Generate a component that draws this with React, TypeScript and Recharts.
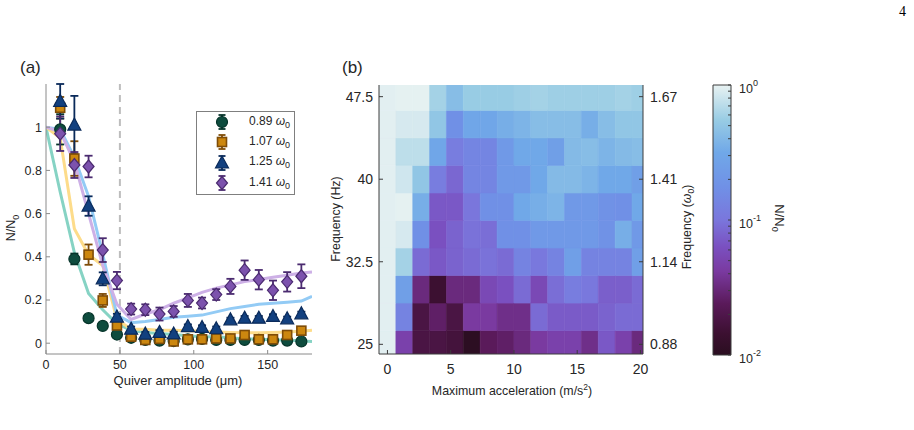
import React from 'react';
import {
  ComposedChart, Line, Scatter, ErrorBar, XAxis, YAxis, ReferenceLine, ReferenceArea, Legend,
} from 'recharts';

const FONT = '"Liberation Sans", Arial, Helvetica, sans-serif';
const INK = '#262626';
const AX_A = '#8a8a8a';
const AX_B = '#3c3c3c';

// ---------- panel (a): N/N0 vs quiver amplitude ----------
const quiverX = [9.6, 19.2, 28.8, 38.4, 48, 57.6, 67.2, 76.8, 86.4, 96, 105.6, 115.2, 124.8, 134.4, 144, 153.6, 163.2, 172.8];

const surv089 = [0.99, 0.39, 0.116, 0.08, 0.04, 0.025, 0.015, 0.012, 0.01, 0.018, 0.02, 0.015, 0.015, 0.015, 0.015, 0.012, 0.012, 0.008];
const err089 = [0.07, 0.025, 0.01, 0.01, 0.008, 0.006, 0.006, 0.006, 0.006, 0.006, 0.006, 0.006, 0.006, 0.006, 0.006, 0.006, 0.006, 0.006];

const surv107 = [1.09, 0.855, 0.41, 0.198, 0.082, 0.03, 0.015, 0.02, 0.008, 0.018, 0.018, 0.022, 0.022, 0.038, 0.018, 0.018, 0.038, 0.058];
const err107 = [0.05, 0.08, 0.047, 0.03, 0.012, 0.008, 0.008, 0.008, 0.008, 0.008, 0.008, 0.008, 0.008, 0.01, 0.008, 0.008, 0.01, 0.01];

const surv125 = [1.12, 1.01, 0.635, 0.298, 0.121, 0.065, 0.042, 0.05, 0.043, 0.077, 0.073, 0.067, 0.108, 0.116, 0.116, 0.124, 0.113, 0.136];
const err125 = [0.08, 0.135, 0.045, 0.03, 0.015, 0.012, 0.01, 0.01, 0.01, 0.01, 0.01, 0.01, 0.01, 0.01, 0.01, 0.01, 0.01, 0.01];

const surv141 = [0.97, 0.825, 0.818, 0.431, 0.29, 0.158, 0.155, 0.135, 0.147, 0.198, 0.186, 0.225, 0.263, 0.338, 0.294, 0.245, 0.284, 0.31];
const err141 = [0.08, 0.06, 0.05, 0.055, 0.04, 0.025, 0.025, 0.03, 0.025, 0.03, 0.025, 0.025, 0.035, 0.045, 0.045, 0.045, 0.045, 0.055];

// simulated curves
const theoryX = [0, 9.6, 19.2, 28.8, 38.4, 48, 57.6, 67.2, 76.8, 86.4, 96, 105.6, 115.2, 124.8, 134.4, 144, 153.6, 163.2, 172.8, 180];
const theory089 = [1, 0.7, 0.42, 0.23, 0.155, 0.09, 0.06, 0.05, 0.045, 0.04, 0.035, 0.03, 0.03, 0.025, 0.02, 0.02, 0.015, 0.015, 0.01, 0.008];
const theory107 = [1, 0.95, 0.53, 0.41, 0.36, 0.11, 0.065, 0.065, 0.06, 0.06, 0.058, 0.055, 0.052, 0.05, 0.048, 0.048, 0.05, 0.052, 0.055, 0.06];
const theory125 = [1, 0.99, 0.86, 0.68, 0.41, 0.13, 0.095, 0.1, 0.11, 0.12, 0.125, 0.13, 0.145, 0.16, 0.17, 0.18, 0.185, 0.19, 0.195, 0.217];
const theory141 = [1, 0.98, 0.84, 0.6, 0.36, 0.18, 0.11, 0.135, 0.155, 0.185, 0.21, 0.235, 0.255, 0.27, 0.285, 0.295, 0.305, 0.315, 0.325, 0.33];

const xTicksA = [0, 50, 100, 150];
const yTicksA = [0, 0.2, 0.4, 0.6, 0.8, 1];

const pts = (ys: number[], es: number[]) => quiverX.map((x, i) => ({ x, y: ys[i], err: es[i] }));
const curve = (ys: number[]) => theoryX.map((x, i) => ({ x, y: ys[i] }));

const SERIES = [
  { label: '0.89', kind: 'circle', data: pts(surv089, err089), theory: curve(theory089), fill: '#0e4c3e', edge: '#06342a', line: '#86d3c4' },
  { label: '1.07', kind: 'square', data: pts(surv107, err107), theory: curve(theory107), fill: '#cc870f', edge: '#7e4c08', line: '#fddc8a' },
  { label: '1.25', kind: 'triangle', data: pts(surv125, err125), theory: curve(theory125), fill: '#12407f', edge: '#0a2a5a', line: '#93cbf5' },
  { label: '1.41', kind: 'diamond', data: pts(surv141, err141), theory: curve(theory141), fill: '#7c52ad', edge: '#4b2b70', line: '#cdb0e6' },
];

function Marker({ kind, cx, cy, fill, edge }: any) {
  if (cx == null || cy == null) return <g />;
  if (kind === 'circle') return <circle cx={cx} cy={cy} r={5.5} fill={fill} stroke={edge} strokeWidth={1.2} />;
  if (kind === 'square') return <rect x={cx - 4.5} y={cy - 4.5} width={9} height={9} fill={fill} stroke={edge} strokeWidth={1.6} />;
  if (kind === 'triangle')
    return <polygon points={`${cx},${cy - 7} ${cx + 6.5},${cy + 5} ${cx - 6.5},${cy + 5}`} fill={fill} stroke={edge} strokeWidth={1.2} />;
  return <polygon points={`${cx},${cy - 6.5} ${cx + 5.5},${cy} ${cx},${cy + 6.5} ${cx - 5.5},${cy}`} fill={fill} stroke={edge} strokeWidth={1.2} />;
}

function LegendBox() {
  return (
    <div style={{ width: 97, height: 82, border: '1px solid #7f7f7f', background: '#fff', position: 'relative', fontFamily: FONT, fontSize: 12, color: INK }}>
      {SERIES.map((s, i) => (
        <div key={s.label} style={{ position: 'absolute', left: 0, top: i * 20.3, height: 20, display: 'flex', alignItems: 'center' }}>
          <svg width={52} height={20}>
            <line x1={25} x2={25} y1={3} y2={17} stroke={s.edge} strokeWidth={1.8} />
            <line x1={21.5} x2={28.5} y1={3} y2={3} stroke={s.edge} strokeWidth={1.8} />
            <line x1={21.5} x2={28.5} y1={17} y2={17} stroke={s.edge} strokeWidth={1.8} />
            <Marker kind={s.kind} cx={25} cy={10} fill={s.fill} edge={s.edge} />
          </svg>
          <span style={{ whiteSpace: 'nowrap' }}>
            {s.label} <i>ω</i><sub style={{ fontSize: 9 }}>0</sub>
          </span>
        </div>
      ))}
    </div>
  );
}

// ---------- panel (b): log10(N/N0) map ----------
const accel = [0, 1.333, 2.667, 4, 5.333, 6.667, 8, 9.333, 10.667, 12, 13.333, 14.667, 16, 17.333, 18.667, 20];
const freqHz = [25, 27.5, 30, 32.5, 35, 37.5, 40, 42.5, 45, 47.5];
const freqTicks = [25, 32.5, 40, 47.5];
const omegaLabels = ['0.88', '1.14', '1.41', '1.67'];
const accelTicks = [0, 5, 10, 15, 20];

const log25 = [-0.02, -1.32, -1.74, -1.74, -1.78, -1.98, -1.62, -1.58, -1.5, -1.38, -1.32, -1.32, -1.46, -1.16, -1.32, -1.5];
const log275 = [-0.02, -0.88, -1.74, -1.58, -1.74, -1.38, -1.38, -1.46, -1.46, -1.06, -1.14, -1.14, -1.14, -1.1, -1.06, -1.06];
const log30 = [-0.02, -0.6, -1.5, -1.84, -1.5, -1.5, -1.26, -1.2, -1.06, -1.26, -1.04, -0.94, -0.98, -1.12, -1.12, -1.06];
const log325 = [-0.02, -0.22, -1.06, -1.16, -1.1, -1.06, -1.02, -1.06, -0.88, -0.98, -0.88, -0.6, -0.88, -0.88, -0.88, -0.6];
const log35 = [-0.02, -0.06, -0.76, -1.2, -1.1, -1.02, -1.04, -0.76, -0.76, -0.66, -0.66, -0.66, -0.66, -0.74, -0.46, -0.66];
const log375 = [-0.02, -0.01, -0.46, -1.16, -1.16, -1.0, -0.76, -0.76, -0.5, -0.46, -0.42, -0.66, -0.66, -0.74, -0.76, -0.5];
const log40 = [-0.02, -0.08, -0.3, -0.94, -1.08, -0.86, -0.86, -0.66, -0.66, -0.5, -0.38, -0.38, -0.42, -0.5, -0.5, -0.6];
const log425 = [-0.02, -0.14, -0.14, -0.52, -0.94, -0.86, -0.86, -0.66, -0.5, -0.5, -0.6, -0.38, -0.36, -0.42, -0.38, -0.36];
const log45 = [-0.02, -0.06, -0.06, -0.3, -0.76, -0.52, -0.52, -0.46, -0.42, -0.36, -0.36, -0.36, -0.46, -0.36, -0.3, -0.3];
const log475 = [-0.02, -0.01, -0.01, -0.22, -0.36, -0.26, -0.26, -0.26, -0.24, -0.22, -0.24, -0.24, -0.24, -0.24, -0.22, -0.24];
const logRows = [log25, log275, log30, log325, log35, log375, log40, log425, log45, log475];

const CELL_DX = 0.6667;
const CELL_DY = 1.25;

// colour map, position 0 = 1e-2, 1 = 1e0
const CMAP: [number, string][] = [
  [0.0, '#2a0e20'],
  [0.08, '#3c1031'],
  [0.19, '#5a1a5a'],
  [0.31, '#7a3aa0'],
  [0.4, '#7a50c0'],
  [0.5, '#7a76dc'],
  [0.62, '#7090e6'],
  [0.75, '#70a8e8'],
  [0.87, '#98cce4'],
  [1.0, '#e8f2f2'],
];

const hex = (c: string) => [1, 3, 5].map((k) => parseInt(c.slice(k, k + 2), 16));
function cmap(logv: number) {
  const t = Math.min(1, Math.max(0, (logv + 2) / 2));
  for (let i = 1; i < CMAP.length; i++) {
    if (t <= CMAP[i][0]) {
      const [t0, c0] = CMAP[i - 1];
      const [t1, c1] = CMAP[i];
      const f = (t - t0) / (t1 - t0);
      const a = hex(c0), b = hex(c1);
      return `rgb(${a.map((v, k) => Math.round(v + (b[k] - v) * f)).join(',')})`;
    }
  }
  return CMAP[CMAP.length - 1][1];
}

const cells = freqHz.flatMap((f, r) => accel.map((a, c) => ({ a, f, v: logRows[r][c] })));

// colour bar in log10 units
const cbLevels = [0.01, 0.02, 0.03, 0.04, 0.05, 0.06, 0.07, 0.08, 0.09, 0.1, 0.2, 0.3, 0.4, 0.5, 0.6, 0.7, 0.8, 0.9, 1];
const cbTicks = cbLevels.map((v) => Math.log10(v));
const cbMajor = [-2, -1, 0];

function CbTick(props: any) {
  const { x, y, payload } = props;
  const exp = Math.round(payload.value);
  if (Math.abs(payload.value - exp) > 1e-6 || !cbMajor.includes(exp)) return <g />;
  return (
    <text x={x} y={y} dy={8} fill={INK} fontSize={12.5} fontFamily={FONT} textAnchor="start">
      10<tspan dy={-7} fontSize={9}>{exp}</tspan>
    </text>
  );
}

const label = (extra: React.CSSProperties): React.CSSProperties => ({
  position: 'absolute', fontFamily: FONT, color: INK, whiteSpace: 'nowrap', lineHeight: 1, ...extra,
});

export default function App() {
  const tickA = { fill: INK, fontSize: 12.5, fontFamily: FONT };
  const tickB = { fill: INK, fontSize: 14, fontFamily: FONT };
  return (
    <div style={{ position: 'fixed', left: 0, top: 0, width: 914, height: 430, background: '#fff', overflow: 'hidden' }}>
      {/* panel (a) */}
      <div style={{ position: 'absolute', left: 0, top: 0 }}>
        <ComposedChart width={330} height={400} margin={{ top: 84, right: 18, bottom: 16, left: 6 }}>
          <XAxis type="number" dataKey="x" domain={[0, 180]} ticks={xTicksA} height={30} tickSize={-4} tickMargin={10}
            stroke={AX_A} tick={tickA} allowDataOverflow />
          <XAxis xAxisId="top" orientation="top" type="number" domain={[0, 180]} ticks={xTicksA} height={0} tickSize={-4}
            tick={false} stroke={AX_A} allowDataOverflow />
          <YAxis type="number" dataKey="y" domain={[-0.05, 1.2]} ticks={yTicksA} width={40} tickSize={-4} tickMargin={8}
            stroke={AX_A} tick={tickA} allowDataOverflow />
          <YAxis yAxisId="right" orientation="right" type="number" domain={[-0.05, 1.2]} ticks={yTicksA} width={0} tickSize={-4}
            tick={false} stroke={AX_A} allowDataOverflow />
          <ReferenceLine x={50} stroke="#bdbdbd" strokeWidth={2} strokeDasharray="7 5" />
          {SERIES.map((s) => (
            <Line key={'t' + s.label} data={s.theory} dataKey="y" type="linear" dot={false} stroke={s.line}
              strokeWidth={3} isAnimationActive={false} legendType="none" />
          ))}
          {SERIES.map((s) => (
            <Scatter key={'d' + s.label} data={s.data} dataKey="y" isAnimationActive={false}
              shape={(p: any) => <Marker kind={s.kind} cx={p.cx} cy={p.cy} fill={s.fill} edge={s.edge} />}>
              <ErrorBar dataKey="err" direction="y" width={4} stroke={s.edge} strokeWidth={1.8} />
            </Scatter>
          ))}
          <Legend layout="vertical" align="center" verticalAlign="middle" content={() => <LegendBox />}
            wrapperStyle={{ left: 196, top: 111, width: 99, height: 84 }} />
        </ComposedChart>
      </div>

      {/* panel (b) */}
      <div style={{ position: 'absolute', left: 330, top: 0 }}>
        <ComposedChart width={360} height={400} margin={{ top: 85, right: 7, bottom: 16, left: 7 }}>
          <XAxis type="number" dataKey="a" domain={[-0.667, 20.2]} ticks={accelTicks} height={30} tickSize={-4} tickMargin={14}
            stroke={AX_B} tick={tickB} allowDataOverflow />
          <XAxis xAxisId="top" orientation="top" type="number" domain={[-0.667, 20.2]} ticks={accelTicks} height={0}
            tickSize={-4} tick={false} stroke={AX_B} allowDataOverflow />
          <YAxis type="number" dataKey="f" domain={[24.12, 48.56]} ticks={freqTicks} width={42} tickSize={-4} tickMargin={10}
            stroke={AX_B} tick={tickB} allowDataOverflow />
          <YAxis yAxisId="r" orientation="right" type="number" domain={[24.12, 48.56]} ticks={freqTicks} width={40}
            tickSize={-4} tickMargin={11} stroke={AX_B} tick={tickB} allowDataOverflow
            tickFormatter={(v: number) => omegaLabels[freqTicks.indexOf(v)] ?? ''} />
          {cells.map((c) => (
            <ReferenceArea key={`${c.a}-${c.f}`} x1={c.a - CELL_DX} x2={c.a + CELL_DX} y1={c.f - CELL_DY} y2={c.f + CELL_DY}
              fill={cmap(c.v)} fillOpacity={1} stroke={cmap(c.v)} strokeWidth={0.6} ifOverflow="hidden" />
          ))}
        </ComposedChart>
      </div>

      {/* colour bar */}
      <div style={{ position: 'absolute', left: 700, top: 0 }}>
        <ComposedChart width={80} height={400} margin={{ top: 85, right: 9, bottom: 45, left: 13 }}>
          <defs>
            <linearGradient id="cbar" x1="0" y1="1" x2="0" y2="0">
              {CMAP.map(([t, c]) => <stop key={t} offset={`${t * 100}%`} stopColor={c} />)}
            </linearGradient>
          </defs>
          <XAxis type="number" dataKey="x" domain={[0, 1]} height={0} tick={false} tickLine={false} axisLine={false} allowDataOverflow />
          <YAxis orientation="right" type="number" domain={[-2, 0]} ticks={cbTicks} width={40} tickSize={-3}
            tickMargin={11} stroke={AX_B} axisLine={false} tick={<CbTick />} allowDataOverflow interval={0} />
          <ReferenceArea x1={0} x2={1} y1={-2} y2={0} fill="url(#cbar)" fillOpacity={1} stroke={AX_B} strokeWidth={1}
            ifOverflow="visible" />
        </ComposedChart>
      </div>

      {/* titles and axis labels */}
      <div style={label({ left: 20, top: 58.5, fontSize: 17 })}>(a)</div>
      <div style={label({ left: 342, top: 58.5, fontSize: 17 })}>(b)</div>
      <div style={label({ left: 899, top: 5, fontSize: 14, fontFamily: 'serif', color: '#000' })}>4</div>

      <div style={label({ left: 13, top: 228, fontSize: 12.5, transform: 'translate(-50%,-50%) rotate(-90deg)' })}>
        N/N<sub style={{ fontSize: 9 }}>0</sub>
      </div>
      <div style={label({ left: 178, top: 380, fontSize: 13, transform: 'translate(-50%,-50%)' })}>Quiver amplitude (μm)</div>

      <div style={label({ left: 336, top: 219, fontSize: 12.4, transform: 'translate(-50%,-50%) rotate(-90deg)' })}>Frequency (Hz)</div>
      <div style={label({ left: 688, top: 227, fontSize: 12.4, transform: 'translate(-50%,-50%) rotate(-90deg)' })}>
        Frequency (<i>ω</i><sub style={{ fontSize: 8.5 }}>0</sub>)
      </div>
      <div style={label({ left: 512, top: 390, fontSize: 12.4, transform: 'translate(-50%,-50%)' })}>
        Maximum acceleration (m/s<sup style={{ fontSize: 8.5 }}>2</sup>)
      </div>
      <div style={label({ left: 778, top: 218, fontSize: 13, transform: 'translate(-50%,-50%) rotate(90deg)' })}>
        N/N<sub style={{ fontSize: 9 }}>0</sub>
      </div>
    </div>
  );
}
